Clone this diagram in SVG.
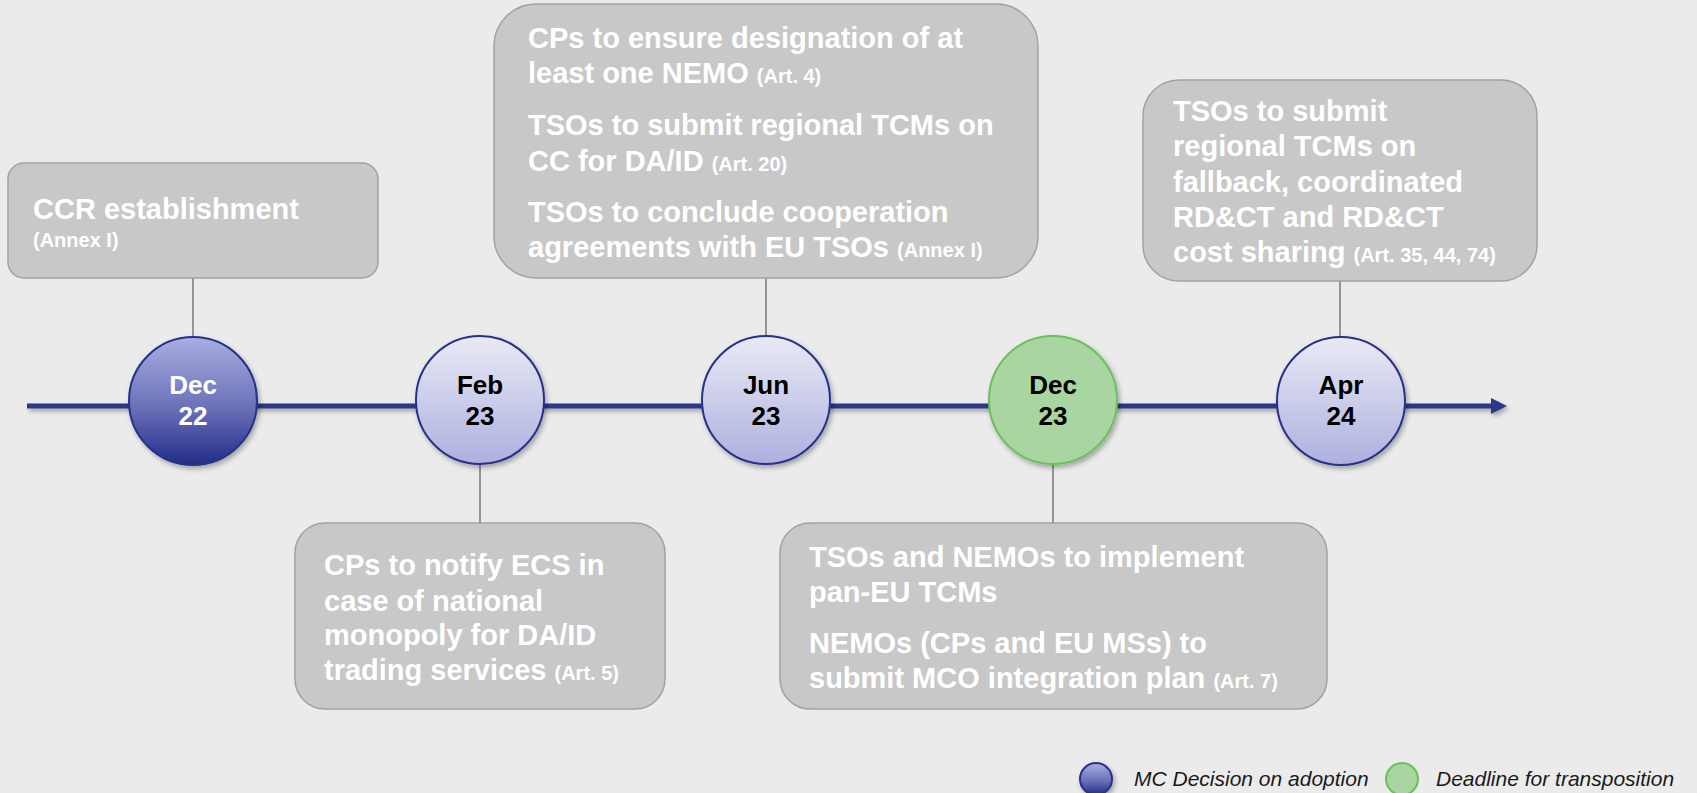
<svg xmlns="http://www.w3.org/2000/svg" width="1697" height="793" viewBox="0 0 1697 793">
  <defs>
    <linearGradient id="gDark" x1="0" y1="0" x2="0" y2="1">
      <stop offset="0" stop-color="#A9AEE2"/>
      <stop offset="0.55" stop-color="#6B71B8"/>
      <stop offset="1" stop-color="#212C88"/>
    </linearGradient>
    <linearGradient id="gLight" x1="0" y1="0" x2="0" y2="1">
      <stop offset="0" stop-color="#E9EAF6"/>
      <stop offset="1" stop-color="#ADB0DE"/>
    </linearGradient>
    <filter id="sh" x="-20%" y="-20%" width="150%" height="150%">
      <feDropShadow dx="2" dy="3" stdDeviation="2.5" flood-color="#000" flood-opacity="0.3"/>
    </filter>
    <filter id="shl" filterUnits="userSpaceOnUse" x="0" y="380" width="1560" height="60">
      <feDropShadow dx="2" dy="3" stdDeviation="2" flood-color="#000" flood-opacity="0.3"/>
    </filter>
    <marker id="arr" viewBox="0 0 16 16" refX="0" refY="8" markerWidth="16" markerHeight="16" markerUnits="userSpaceOnUse" orient="auto">
      <path d="M0,0 L16,8 L0,16 Z" fill="#2B3787"/>
    </marker>
    <style>
      .box { fill:#C8C8C8; stroke:#A2A2A2; stroke-width:1.5; }
      .bt { font-family:"Liberation Sans", Arial, sans-serif; font-weight:bold; font-size:29px; fill:#FFFFFF; }
      .sm { font-size:20px; }
      .conn { stroke:#7F7F7F; stroke-width:1.6; fill:none; }
      .date { font-family:"Liberation Sans", Arial, sans-serif; font-weight:bold; font-size:26px; text-anchor:middle; fill:#000; }
      .dw { fill:#FFFFFF; }
      .ms { stroke:#26318A; stroke-width:2; }
      .gs { fill:#A9D6A0; stroke:#6CBF5E; stroke-width:2; }
      .leg { font-family:"Liberation Sans", Arial, sans-serif; font-style:italic; font-size:21px; fill:#1A1A1A; }
    </style>
  </defs>
  <rect x="0" y="0" width="1697" height="793" fill="#EBEBEB"/>

  <g id="connectors">
    <line class="conn" x1="193" y1="278" x2="193" y2="338"/>
    <line class="conn" x1="480" y1="462" x2="480" y2="523"/>
    <line class="conn" x1="766" y1="278" x2="766" y2="338"/>
    <line class="conn" x1="1053" y1="462" x2="1053" y2="523"/>
    <line class="conn" x1="1340" y1="281" x2="1340" y2="338"/>
    <g id="timeline" filter="url(#shl)">
      <line x1="27" y1="406" x2="1491" y2="406" stroke="#2B3787" stroke-width="5" marker-end="url(#arr)"/>
    </g>
  </g>

  <g id="box-ccr">
    <rect class="box" x="8" y="163" width="370" height="115" rx="16"/>
    <text class="bt" x="33" y="219">CCR establishment</text>
    <text class="bt sm" x="33" y="247">(Annex I)</text>
  </g>

  <g id="box-jun23">
    <rect class="box" x="494" y="4" width="544" height="274" rx="42"/>
    <text class="bt" x="528" y="48">CPs to ensure designation of at</text>
    <text class="bt" x="528" y="83">least one NEMO <tspan class="sm">(Art. 4)</tspan></text>
    <text class="bt" x="528" y="135">TSOs to submit regional TCMs on</text>
    <text class="bt" x="528" y="171">CC for DA/ID <tspan class="sm">(Art. 20)</tspan></text>
    <text class="bt" x="528" y="222">TSOs to conclude cooperation</text>
    <text class="bt" x="528" y="257">agreements with EU TSOs <tspan class="sm">(Annex I)</tspan></text>
  </g>

  <g id="box-apr24">
    <rect class="box" x="1143" y="80" width="394" height="201" rx="36"/>
    <text class="bt" x="1173" y="121">TSOs to submit</text>
    <text class="bt" x="1173" y="156">regional TCMs on</text>
    <text class="bt" x="1173" y="192">fallback, coordinated</text>
    <text class="bt" x="1173" y="227">RD&amp;CT and RD&amp;CT</text>
    <text class="bt" x="1173" y="262">cost sharing <tspan class="sm">(Art. 35, 44, 74)</tspan></text>
  </g>

  <g id="box-feb23">
    <rect class="box" x="295" y="523" width="370" height="186" rx="30"/>
    <text class="bt" x="324" y="575">CPs to notify ECS in</text>
    <text class="bt" x="324" y="611">case of national</text>
    <text class="bt" x="324" y="645">monopoly for DA/ID</text>
    <text class="bt" x="324" y="680">trading services <tspan class="sm">(Art. 5)</tspan></text>
  </g>

  <g id="box-dec23">
    <rect class="box" x="780" y="523" width="547" height="186" rx="30"/>
    <text class="bt" x="809" y="567">TSOs and NEMOs to implement</text>
    <text class="bt" x="809" y="602">pan-EU TCMs</text>
    <text class="bt" x="809" y="653">NEMOs (CPs and EU MSs) to</text>
    <text class="bt" x="809" y="688">submit MCO integration plan <tspan class="sm">(Art. 7)</tspan></text>
  </g>

  <g id="node-dec22">
    <circle class="ms" cx="193" cy="401" r="64" fill="url(#gDark)" filter="url(#sh)"/>
    <text class="date dw" x="193" y="394">Dec</text>
    <text class="date dw" x="193" y="425">22</text>
  </g>
  <g id="node-feb23">
    <circle class="ms" cx="480" cy="400" r="64" fill="url(#gLight)" filter="url(#sh)"/>
    <text class="date" x="480" y="394">Feb</text>
    <text class="date" x="480" y="425">23</text>
  </g>
  <g id="node-jun23">
    <circle class="ms" cx="766" cy="400" r="64" fill="url(#gLight)" filter="url(#sh)"/>
    <text class="date" x="766" y="394">Jun</text>
    <text class="date" x="766" y="425">23</text>
  </g>
  <g id="node-dec23">
    <circle class="gs" cx="1053" cy="400" r="64" filter="url(#sh)"/>
    <text class="date" x="1053" y="394">Dec</text>
    <text class="date" x="1053" y="425">23</text>
  </g>
  <g id="node-apr24">
    <circle class="ms" cx="1341" cy="401" r="64" fill="url(#gLight)" filter="url(#sh)"/>
    <text class="date" x="1341" y="394">Apr</text>
    <text class="date" x="1341" y="425">24</text>
  </g>

  <g id="legend">
    <ellipse class="ms" cx="1096" cy="779" rx="16" ry="16" fill="url(#gDark)" filter="url(#sh)"/>
    <text class="leg" x="1134" y="786">MC Decision on adoption</text>
    <ellipse class="gs" cx="1402" cy="779" rx="16" ry="16"/>
    <text class="leg" x="1436" y="786">Deadline for transposition</text>
  </g>
</svg>
